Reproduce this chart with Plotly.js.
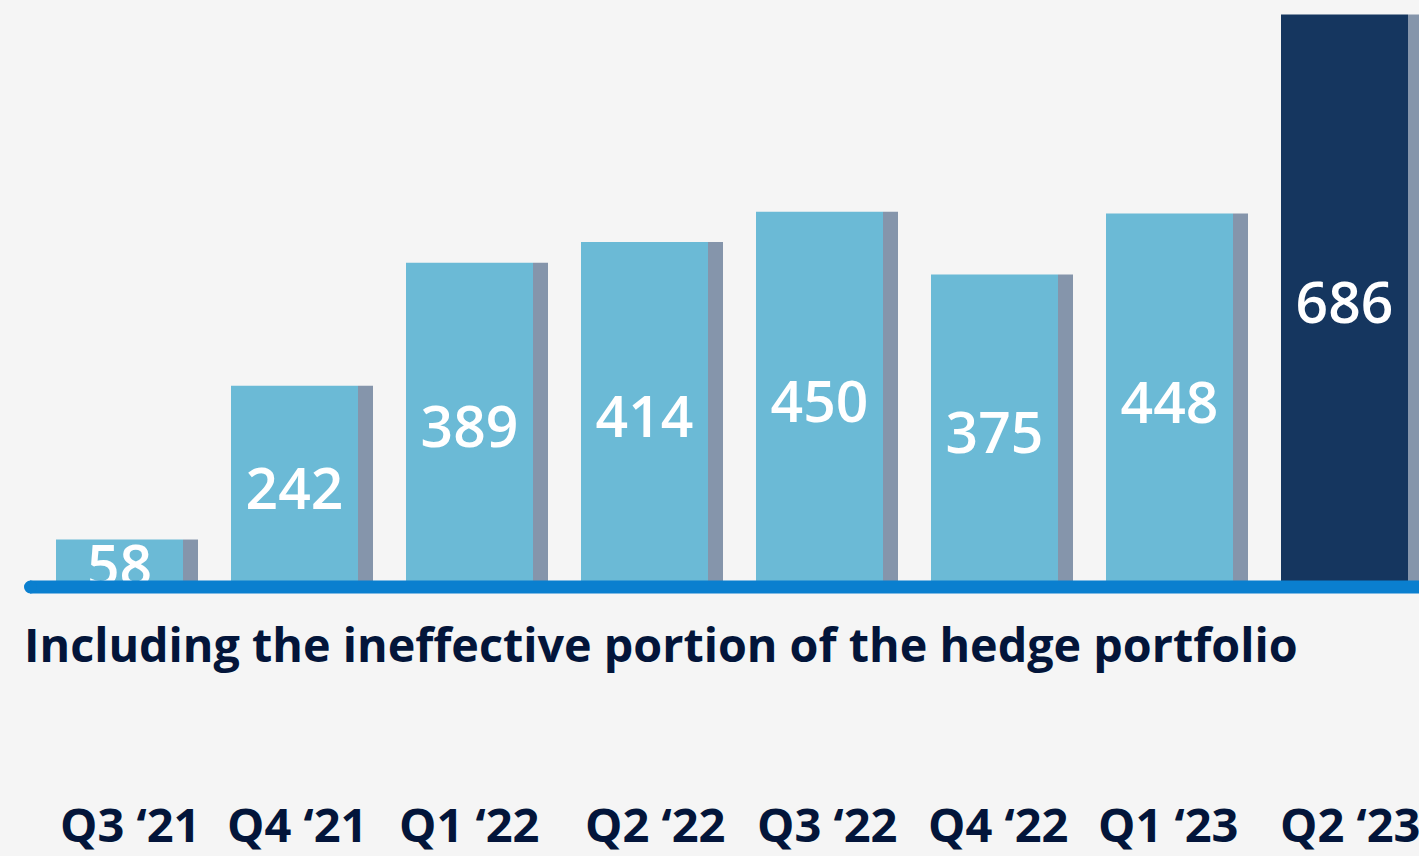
<!DOCTYPE html>
<html>
<head>
<meta charset="utf-8">
<script src="https://cdn.plot.ly/plotly-3.0.1.min.js"></script>
<style>
html,body{margin:0;padding:0;background:#f5f5f5;}
#chart{width:1419px;height:856px;}
</style>
</head>
<body>
<div id="chart"></div>
<script>
const categories = ["Q3 \u201821","Q4 \u201821","Q1 \u201822","Q2 \u201822","Q3 \u201822","Q4 \u201822","Q1 \u201823","Q2 \u201823"];
const values = [58, 242, 389, 414, 450, 375, 448, 686];
const highlight = [false, false, false, false, false, false, false, true];
const caption = "Including the ineffective portion of the hedge portfolio";

// layout-only tweaks (pixel shifts of category labels)
const labelShift = [10, 2, -1, 10, 7, 3, -2, 5];

const W = 1419, H = 856;
const plotBottom = 588.5;     // pixel y of zero line
const step = 175;             // pixel distance between categories
const firstCenter = 119.5;    // pixel x of first bar face center
const faceW = 127, shadowW = 15;

const idx = categories.map((c, i) => i);
const xr = [-firstCenter / step, (W - firstCenter) / step];
const yTopVal = 703.4;

const faceColors = highlight.map(h => h ? "#15365f" : "#6bbad6");

const shadow = {
  type: "bar", x: idx, y: values,
  width: shadowW / step, offset: (faceW / 2) / step,
  marker: {color: "#8595ab", line: {width: 0}},
  hoverinfo: "skip", showlegend: false
};
const face = {
  type: "bar", x: idx, y: values,
  width: faceW / step, offset: -(faceW / 2) / step,
  marker: {color: faceColors, line: {width: 0}},
  text: values.map(String),
  textposition: "inside", insidetextanchor: "middle",
  constraintext: "none", textangle: 0, cliponaxis: false,
  textfont: {family: "Open Sans", size: 57, color: "#ffffff", weight: 600},
  showlegend: false
};

const px2paperX = p => p / W;
const px2paperY = p => (plotBottom - p) / plotBottom;

const annotations = categories.map((c, i) => ({
  x: i, xref: "x", y: px2paperY(825), yref: "paper", xshift: labelShift[i],
  text: c, showarrow: false, xanchor: "center", yanchor: "middle",
  font: {family: "Open Sans", size: 47, color: "#03153a", weight: 700}
}));
annotations.push({
  x: px2paperX(22), xref: "paper", y: px2paperY(645), yref: "paper",
  text: caption, showarrow: false, xanchor: "left", yanchor: "middle",
  font: {family: "Open Sans", size: 46.7, color: "#03153a", weight: 700}
});

const shapes = [
  {type: "rect", xref: "paper", yref: "paper", layer: "above",
   x0: px2paperX(30), x1: px2paperX(1425), y0: px2paperY(581), y1: px2paperY(594),
   fillcolor: "#0a7fcf", line: {width: 0}},
  {type: "circle", xref: "paper", yref: "paper", layer: "above",
   x0: px2paperX(24), x1: px2paperX(37), y0: px2paperY(581), y1: px2paperY(594),
   fillcolor: "#0a7fcf", line: {width: 0}}
];

const layout = {
  width: W, height: H,
  margin: {l: 0, r: 0, t: 0, b: H - plotBottom, pad: 0},
  paper_bgcolor: "#f5f5f5", plot_bgcolor: "rgba(0,0,0,0)",
  barmode: "overlay",
  xaxis: {range: xr, visible: false, fixedrange: true},
  yaxis: {range: [0, yTopVal], visible: false, fixedrange: true},
  annotations: annotations, shapes: shapes,
  showlegend: false
};

Plotly.newPlot("chart", [shadow, face], layout, {displayModeBar: false, staticPlot: true});
</script>
</body>
</html>
